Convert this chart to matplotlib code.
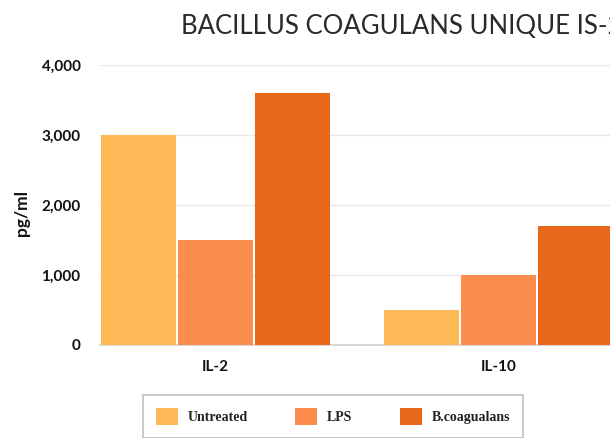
import matplotlib
matplotlib.use("Agg")
import matplotlib.pyplot as plt
import numpy as np

categories = ["IL-2", "IL-10"]
series_names = ["Untreated", "LPS", "B.coagualans"]
untreated = [3000, 500]
lps = [1500, 1000]
bcoag = [3600, 1700]
yticks = [0, 1000, 2000, 3000, 4000]
ytick_labels = ["0", "1,000", "2,000", "3,000", "4,000"]
title = "BACILLUS COAGULANS UNIQUE IS-2"
ylabel = "pg/ml"

colors = ["#FDB955", "#FC8E4D", "#E8671A"]

W, H = 610, 438
fig = plt.figure(figsize=(W / 100, H / 100), dpi=100)
fig.patch.set_facecolor("white")

# axes extends past the right edge (reference is cropped)
ax_left = 100 / W
ax_bottom = (H - 345) / H
ax_height = 280 / H
ax_width = 566 / W
ax = fig.add_axes([ax_left, ax_bottom, ax_width, ax_height])

x = np.arange(len(categories))
bw = 0.272
for i, (vals, name, c) in enumerate(zip([untreated, lps, bcoag], series_names, colors)):
    ax.bar(x + (i - 1) * bw, vals, width=bw * 0.985, color=c, label=name,
           edgecolor="none", zorder=3)

ax.set_xlim(-0.408, 1.592)
ax.set_ylim(0, 4000)
ax.set_yticks(yticks)
ax.set_yticklabels(ytick_labels)
ax.set_xticks(x)
ax.set_xticklabels(categories)
ax.grid(axis="y", color="#e8e8e8", linewidth=1, zorder=0)
for s in ["top", "right", "left"]:
    ax.spines[s].set_visible(False)
ax.spines["bottom"].set_color("#d0d0d0")
ax.spines["bottom"].set_linewidth(1.2)
ax.tick_params(axis="both", length=0)
ax.tick_params(axis="y", pad=14, labelsize=11, labelcolor="#111111")
ax.tick_params(axis="x", pad=11, labelsize=11, labelcolor="#111111")
for lab in ax.get_yticklabels() + ax.get_xticklabels():
    lab.set_fontfamily("Lato")
    lab.set_fontweight("bold")

fig.text(22 / W, 1 - 213 / H, ylabel, rotation=90, ha="center", va="center",
         fontsize=12.5, fontweight="bold", fontfamily="Lato", color="#111111")

fig.text(181 / W, 1 - 26 / H, title, ha="left", va="center", fontsize=18.5,
         fontfamily="Lato", fontweight="normal", color="#2a2a2a")

leg = fig.legend(loc="upper center", bbox_to_anchor=(333 / W, 1 - 395 / H),
                 ncol=3, frameon=True, fancybox=False,
                 prop={"family": "Liberation Serif", "weight": "bold", "size": 10},
                 handlelength=1.6, handleheight=1.6, handletextpad=0.7,
                 columnspacing=3.4, borderpad=0.9, borderaxespad=0)
leg.get_frame().set_edgecolor("#b0b0b0")
leg.get_frame().set_linewidth(1.2)
for t in leg.get_texts():
    t.set_color("#222222")

fig.savefig("out.png", dpi=100, facecolor="white")
